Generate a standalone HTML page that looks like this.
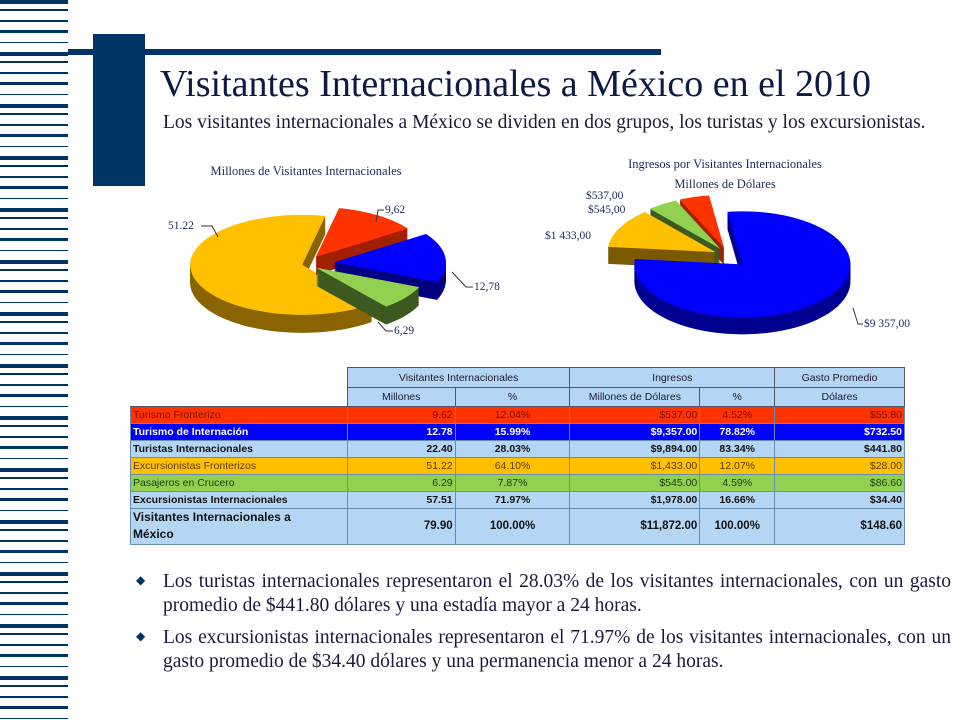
<!DOCTYPE html>
<html><head><meta charset="utf-8">
<style>
body{margin:0;width:960px;height:720px;overflow:hidden;background:#fff;position:relative;font-family:"Liberation Serif",serif;color:#1a1a2e}
.abs{position:absolute}
#stripes{left:0;top:0;width:68px;height:720px;background:repeating-linear-gradient(180deg,#003366 0 4px,#fff 4px 9px,#003366 9px 11px,#fff 11px 20px,#003366 20px 22px,#fff 22px 30px,#003366 30px 33px,#fff 33px 42px,#003366 42px 43px,#fff 43px 52px)}
table{border-collapse:collapse;font-family:"Liberation Sans",sans-serif;font-size:10.5px}
td{border:1px solid #6a8bb0;padding:0 2px;height:16px;line-height:16px;white-space:nowrap}
.h td{background:#b4d6f4;text-align:center;border-color:#556}
.n{text-align:right}.c{text-align:center}
.b td{font-weight:bold}
p.t{margin:0;font-size:19.5px;text-align:justify;line-height:24px;color:#1a1a3a}
</style></head><body>
<div id="stripes" class="abs"></div>
<div class="abs" style="left:68px;top:49px;width:593px;height:6px;background:#003366"></div>
<div class="abs" style="left:93px;top:34px;width:52px;height:152px;background:#003366"></div>
<div class="abs" style="left:160px;top:62px;font-size:38px;color:#0d1a44;white-space:nowrap">Visitantes Internacionales a México en el 2010</div>
<div class="abs" style="left:163px;top:111px;width:788px"><p class="t">Los visitantes internacionales a México se dividen en dos grupos, los turistas y los excursionistas.</p></div>

<svg class="abs" style="left:0;top:0" width="960" height="370">
<text x="306" y="175" font-size="12.5" text-anchor="middle" fill="#1a2a5a">Millones  de Visitantes Internacionales</text>
<text x="725" y="168" font-size="12.5" text-anchor="middle" fill="#1a2a5a">Ingresos por Visitantes Internacionales</text>
<text x="725" y="188" font-size="12.5" text-anchor="middle" fill="#1a2a5a">Millones  de Dólares</text>
<g id="left"></g><g id="right"></g>
</svg>
<script>
const leftCats=["Excursionistas Fronterizos","Turismo Fronterizo","Turismo de Internación","Pasajeros en Crucero"];
const leftValues=[51.22,9.62,12.78,6.29];
const leftLabels=["51.22","9,62","12,78","6,29"];
const rightCats=["Pasajeros en Crucero","Excursionistas Fronterizos","Turismo Fronterizo","Turismo de Internación"];
const rightValues=[545,1433,537,9357];
const rightLabels=["$545,00","$1 433,00","$537,00","$9 357,00"];
const NS="http://www.w3.org/2000/svg";
function pie(gid,cats,vals,labels,o){
  const g=document.getElementById(gid);
  const tot=vals.reduce((a,b)=>a+b,0);
  const ang={};let a=o.start;
  o.order.forEach(i=>{const s=vals[i]/tot*360;ang[i]=[a,a+s];a+=s;});
  const rad=d=>d*Math.PI/180;
  o.draw.forEach(i=>{
    const [a0,a1]=ang[i];const mid=rad((a0+a1)/2);
    const cx=o.cx+Math.cos(mid)*o.ex[i],cy=o.cy+Math.sin(mid)*o.ex[i]*0.6;
    const path=(dy)=>{let d=`M${cx},${cy+dy}`;for(let t=a0;t<=a1+0.01;t+=2){const tt=Math.min(t,a1);d+=`L${cx+o.rx*Math.cos(rad(tt))},${cy+dy+o.ry*Math.sin(rad(tt))}`;}d+=`L${cx+o.rx*Math.cos(rad(a1))},${cy+dy+o.ry*Math.sin(rad(a1))}Z`;return d;};
    for(let k=o.depth;k>0;k-=1){const p=document.createElementNS(NS,"path");p.setAttribute("d",path(k));p.setAttribute("fill",o.dark[i]);
      
      
      g.appendChild(p);}
    const t=document.createElementNS(NS,"path");t.setAttribute("d",path(0));t.setAttribute("fill",o.col[i]);
    
    
    g.appendChild(t);
  });
  o.lab.forEach((L,i)=>{const tx=document.createElementNS(NS,"text");tx.setAttribute("x",L[0]);tx.setAttribute("y",L[1]);tx.setAttribute("font-size","11.5");tx.setAttribute("fill","#1a2a5a");tx.textContent=labels[i];
    
    
    g.appendChild(tx);
    if(L[2]){const ln=document.createElementNS(NS,"polyline");ln.setAttribute("points",L[2]);ln.setAttribute("fill","none");ln.setAttribute("stroke","#333");ln.setAttribute("stroke-width","1");
    
    
    g.appendChild(ln);}});
}
pie("left",leftCats,leftValues,leftLabels,{cx:308,cy:264,rx:112,ry:50,depth:18,start:-78,order:[1,2,3,0],draw:[0,1,2,3],
  ex:[6,14,26,10],col:["#ffc000","#ff3300","#0000ff","#92d050"],dark:["#8a6400","#a02000","#000080","#3d5a20"],
  lab:[[168,229,"201,226 212,226 218,237"],[385,213,"384,210 378,210 376,222"],[474,290,"473,287 466,287 452,272"],[394,334,"393,331 386,331 378,322"]]});
pie("right",rightCats,rightValues,rightLabels,{cx:728,cy:256,rx:108,ry:53,depth:17,start:-98,order:[3,1,0,2],draw:[2,0,1,3],
  ex:[14,14,14,20],col:["#92d050","#ffc000","#ff3300","#0000ff"],dark:["#3d5a20","#7a5a00","#a02000","#000090"],
  lab:[[588,213],[545,239],[586,199],[864,327,"863,324 858,324 853,308"]]});
</script>

<table class="abs" style="left:130px;top:367px;width:775px">
<colgroup><col style="width:217px"><col style="width:108px"><col style="width:115px"><col style="width:130px"><col style="width:75px"><col style="width:130px"></colgroup>
<tr class="h"><td style="background:#fff;border:none;height:20px"></td><td colspan="2">Visitantes  Internacionales</td><td colspan="2">Ingresos</td><td>Gasto Promedio</td></tr>
<tr class="h"><td style="background:#fff;border:none;border-bottom:1px solid #556;height:18px"></td><td>Millones</td><td>%</td><td>Millones de Dólares</td><td>%</td><td>Dólares</td></tr>
<tr style="background:#ff3300;color:#7a1000"><td>Turismo Fronterizo</td><td class="n">9.62</td><td class="c">12.04%</td><td class="n">$537.00</td><td class="c">4.52%</td><td class="n">$55.80</td></tr>
<tr class="b" style="background:#0000ff;color:#fff"><td>Turismo de Internación</td><td class="n">12.78</td><td class="c">15.99%</td><td class="n">$9,357.00</td><td class="c">78.82%</td><td class="n">$732.50</td></tr>
<tr class="b" style="background:#b4d6f4;color:#111"><td>Turistas  Internacionales</td><td class="n">22.40</td><td class="c">28.03%</td><td class="n">$9,894.00</td><td class="c">83.34%</td><td class="n">$441.80</td></tr>
<tr style="background:#ffc000;color:#5a3a00"><td>Excursionistas Fronterizos</td><td class="n">51.22</td><td class="c">64.10%</td><td class="n">$1,433.00</td><td class="c">12.07%</td><td class="n">$28.00</td></tr>
<tr style="background:#92d050;color:#1e3a10"><td>Pasajeros en Crucero</td><td class="n">6.29</td><td class="c">7.87%</td><td class="n">$545.00</td><td class="c">4.59%</td><td class="n">$86.60</td></tr>
<tr class="b" style="background:#b4d6f4;color:#111"><td>Excursionistas  Internacionales</td><td class="n">57.51</td><td class="c">71.97%</td><td class="n">$1,978.00</td><td class="c">16.66%</td><td class="n">$34.40</td></tr>
<tr class="b" style="background:#b4d6f4;color:#111"><td style="height:35px;line-height:17px;white-space:normal;font-size:12px"><div style="width:180px">Visitantes Internacionales a México</div></td><td class="n" style="font-size:11.5px">79.90</td><td class="c" style="font-size:11.5px">100.00%</td><td class="n" style="font-size:11.5px">$11,872.00</td><td class="c" style="font-size:11.5px">100.00%</td><td class="n" style="font-size:11.5px">$148.60</td></tr>
</table>

<div class="abs" style="left:163px;top:570px;width:788px"><span class="abs" style="left:-27px;top:3px;font-size:12px;color:#003366">◆</span><p class="t">Los turistas internacionales representaron el 28.03% de los visitantes internacionales, con un gasto promedio de $441.80 dólares y una estadía mayor a 24 horas.</p></div>
<div class="abs" style="left:163px;top:626px;width:788px"><span class="abs" style="left:-27px;top:3px;font-size:12px;color:#003366">◆</span><p class="t">Los excursionistas internacionales representaron el 71.97% de los visitantes internacionales, con un gasto promedio de $34.40 dólares y una permanencia menor a 24 horas.</p></div>
</body></html>
